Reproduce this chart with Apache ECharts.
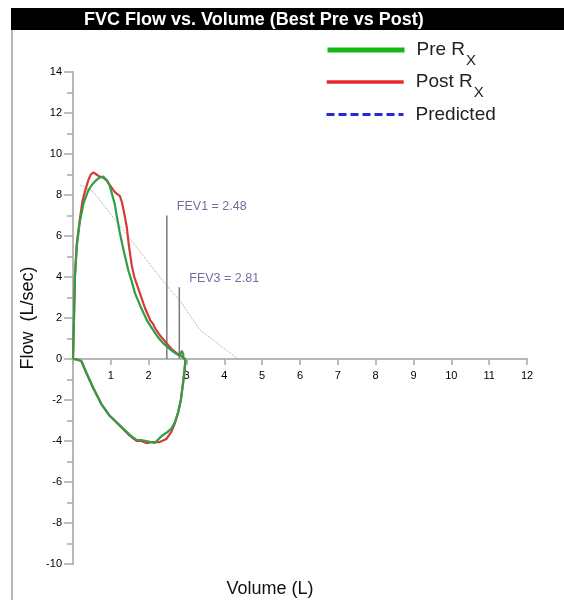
<!DOCTYPE html>
<html><head><meta charset="utf-8">
<script src="https://cdn.jsdelivr.net/npm/echarts@6/dist/echarts.min.js"></script>
<style>html,body{margin:0;padding:0;background:#fff}#c{width:564px;height:600px}</style>
</head><body><div id="c"></div>
<script>
// ---- data ----
const preVolume = [0,0.02,0.05,0.1,0.18,0.28,0.4,0.5,0.6,0.7,0.8,0.9,0.97,1.03,1.1,1.16,1.24,1.35,1.46,1.55,1.64,1.8,1.95,2.05,2.12,2.25,2.39,2.55,2.7,2.82,2.88,2.92,2.9,2.96,
  2.97,2.94,2.9,2.85,2.78,2.69,2.6,2.47,2.38,2.29,2.16,2.05,1.94,1.8,1.68,1.5,1.24,0.97,0.75,0.53,0.35,0.22,0.1,0];
const preFlow = [0,1.5,4.0,5.5,6.7,7.6,8.2,8.5,8.7,8.85,8.9,8.7,8.45,8.05,7.58,6.95,6.13,5.2,4.34,3.8,3.2,2.5,1.9,1.6,1.41,1.05,0.76,0.5,0.29,0.15,0.4,0.2,0.05,0,
  -0.1,-0.6,-1.3,-2.0,-2.6,-3.1,-3.4,-3.6,-3.7,-3.85,-4.1,-4.05,-4.0,-3.95,-3.95,-3.7,-3.25,-2.77,-2.2,-1.39,-0.66,-0.1,-0.02,0];
const postVolume = [0,0.02,0.05,0.1,0.18,0.25,0.32,0.4,0.47,0.54,0.62,0.7,0.8,0.9,0.97,1.1,1.24,1.3,1.37,1.42,1.48,1.55,1.62,1.77,1.9,2.04,2.12,2.17,2.21,2.3,2.39,2.48,2.6,2.74,2.85,2.95,
  2.97,2.95,2.9,2.85,2.78,2.69,2.6,2.47,2.29,2.12,1.94,1.8,1.68,1.5,1.24,0.97,0.75,0.53,0.35,0.22,0.1,0];
const postFlow = [0,1.5,4.0,5.6,6.8,7.7,8.2,8.7,9.0,9.1,9.0,8.9,8.85,8.7,8.5,8.15,7.95,7.6,6.95,6.45,5.5,4.6,4.0,3.2,2.5,1.9,1.7,1.5,1.41,1.15,0.95,0.76,0.5,0.29,0.15,0.03,
  -0.1,-0.6,-1.3,-2.0,-2.6,-3.15,-3.55,-3.9,-4.05,-4.05,-4.1,-4.0,-4.0,-3.74,-3.25,-2.77,-2.2,-1.4,-0.66,-0.1,-0.02,0];
const predictedVolume = [0.18,0.54,1.0,1.5,2.0,2.48,2.88,3.1,3.36,3.8,4.37];
const predictedFlow = [8.5,8.15,7.06,5.88,4.7,3.57,2.72,2.1,1.41,0.79,0];
const fevNames = ['FEV1','FEV3'];
const fevVolumes = [2.48, 2.81];
const fevMarkerTops = [7.0, 3.5];
const xTicks = [0,1,2,3,4,5,6,7,8,9,10,11,12];
const yTicks = [-10,-8,-6,-4,-2,0,2,4,6,8,10,12,14];

const pairs = (xs, ys) => xs.map((x, i) => [x, ys[i]]);
const FONT = 'Liberation Sans, Arial, sans-serif';

const chart = echarts.init(document.getElementById('c'), null, {renderer: 'canvas'});

const legendRich = {
  t: {fontSize: 19, fontFamily: FONT, color: '#222', lineHeight: 20, padding: [0, 0, 0, 7]},
  s: {fontSize: 15, fontFamily: FONT, color: '#222', lineHeight: 15, padding: [22, 0, 0, 1]}
};
const legendFormatter = n => n === 'Pre' ? '{t|Pre R}{s|X}' : n === 'Post' ? '{t|Post R}{s|X}' : '{t|Predicted}';
const legendBase = {
  orient: 'vertical', left: 325, padding: 0, itemWidth: 77, itemHeight: 4,
  selectedMode: false, itemStyle: {opacity: 0},
  formatter: legendFormatter, textStyle: {rich: legendRich}
};

const fevSeries = [];
fevNames.forEach((n, i) => {
  fevSeries.push({
    type: 'line', name: n + ' marker', silent: true, symbol: 'none',
    data: [[fevVolumes[i], 0], [fevVolumes[i], fevMarkerTops[i]]],
    lineStyle: {color: '#7a7a7a', width: 1.5}, z: 2
  });
  fevSeries.push({
    type: 'scatter', name: n + ' label', silent: true, symbolSize: 0,
    data: [[fevVolumes[i], fevMarkerTops[i]]],
    label: {show: true, position: 'right', offset: [5, -9],
      formatter: n + ' = ' + fevVolumes[i].toFixed(2),
      color: '#4a4a8a', fontSize: 12.5, fontFamily: FONT}
  });
});

// grid geometry: y = 0 sits 14/24 of the way down the plot
const GRID_TOP = 72, GRID_BOTTOM = 36, PLOT_H = 600 - GRID_TOP - GRID_BOTTOM;
const zeroFromBottom = PLOT_H * (0 - yTicks[0]) / (yTicks[yTicks.length - 1] - yTicks[0]);

chart.setOption({
  animation: false,
  backgroundColor: '#ffffff',
  title: {
    text: 'FVC Flow vs. Volume (Best Pre vs Post)', left: 84, top: 11, padding: 0,
    textStyle: {color: '#ffffff', fontSize: 18, fontWeight: 'bold', fontFamily: FONT}
  },
  graphic: [
    {type: 'rect', shape: {x: 11, y: 8, width: 553, height: 22}, style: {fill: '#000'}, z: -10},
    {type: 'line', shape: {x1: 12, y1: 30, x2: 12, y2: 600}, style: {stroke: '#a0a0a0', lineWidth: 1.5}}
  ],
  legend: [
    Object.assign({}, legendBase, {top: 31.5, data: ['Pre'], lineStyle: {width: 5, color: '#14b814'}}),
    Object.assign({}, legendBase, {top: 63.5, data: ['Post'], lineStyle: {width: 3.5, color: '#e8292b'}}),
    Object.assign({}, legendBase, {top: 105, data: ['Predicted'], lineStyle: {width: 3, color: '#2828d0', type: [8, 4]}})
  ],
  grid: {left: 73, right: 37, top: GRID_TOP, bottom: GRID_BOTTOM, containLabel: false, outerBoundsMode: 'none'},
  xAxis: {
    type: 'value', min: 0, max: 12, interval: 1,
    offset: -zeroFromBottom,
    name: 'Volume (L)', nameLocation: 'middle', nameGap: 221, nameMoveOverlap: false,
    nameTextStyle: {fontSize: 18, fontFamily: FONT, color: '#111', padding: [0, 60, 0, 0]},
    axisLine: {onZero: false, lineStyle: {color: '#b8b8b8', width: 2}},
    axisTick: {show: true, length: 6, lineStyle: {color: '#a8a8a8', width: 1.5}},
    axisLabel: {fontSize: 11, fontFamily: FONT, color: '#000', margin: 11,
      formatter: v => (v === 0 ? '' : String(v))},
    splitLine: {show: false}
  },
  yAxis: {
    type: 'value', min: -10, max: 14, interval: 2,
    name: 'Flow  (L/sec)', nameLocation: 'middle', nameGap: 36, nameMoveOverlap: false,
    nameTextStyle: {fontSize: 18, fontFamily: FONT, color: '#111'},
    axisLine: {show: true, onZero: false, lineStyle: {color: '#b8b8b8', width: 2}},
    axisTick: {show: true, length: 9, lineStyle: {color: '#a8a8a8', width: 1.5}},
    minorTick: {show: true, splitNumber: 2, length: 6, lineStyle: {color: '#a8a8a8', width: 1.5}},
    axisLabel: {fontSize: 11, fontFamily: FONT, color: '#000', margin: 11},
    splitLine: {show: false}
  },
  series: [
    {type: 'line', name: 'Predicted', symbol: 'none', data: pairs(predictedVolume, predictedFlow),
      lineStyle: {color: '#a6a6a6', width: 1, type: 'dotted'}, z: 1}
  ].concat(fevSeries, [
    {type: 'line', name: 'Post', symbol: 'none', data: pairs(postVolume, postFlow),
      lineStyle: {color: '#d63a3a', width: 2.2}, itemStyle: {color: '#d63a3a'}, z: 3},
    {type: 'line', name: 'Pre', symbol: 'none', data: pairs(preVolume, preFlow),
      lineStyle: {color: '#2f9e45', width: 2.2}, itemStyle: {color: '#2f9e45'}, z: 4}
  ])
});
</script>
</body></html>
